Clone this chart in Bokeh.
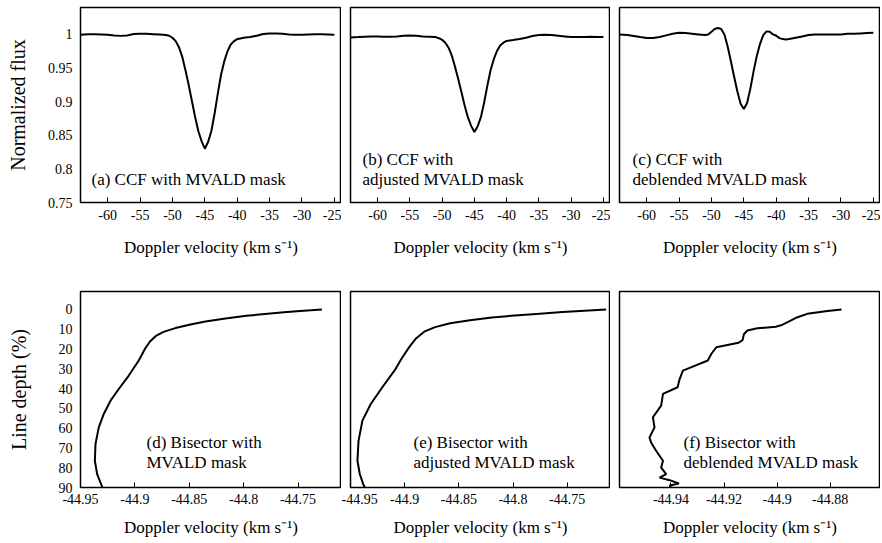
from bokeh.plotting import figure
from bokeh.layouts import gridplot
from bokeh.models import Range1d, FixedTicker, Label
from bokeh.embed import file_html
from bokeh.resources import INLINE

FONT = "Liberation Serif"

# ---------------- data: CCFs (top row) ----------------
ccf_a_v = [-64.2, -63, -62, -61, -60, -59, -58, -57, -56, -55, -54, -53, -52, -51, -50.5,
           -50, -49.5, -49, -48.5, -48, -47.5, -47, -46.5, -46, -45.5, -45, -44.5, -44,
           -43.5, -43, -42.5, -42, -41.5, -41, -40.5, -40, -39.5, -39, -38, -37, -36, -35,
           -34, -33, -32, -31, -30, -29, -28, -27, -26, -25]
ccf_a_f = [0.9995, 1.0002, 1.0003, 1.0, 0.9993, 0.9985, 0.9978, 0.9985, 1.0005, 1.001, 1.0008,
           1.0003, 0.9998, 0.999, 0.998, 0.995, 0.990, 0.981, 0.967, 0.947, 0.925, 0.901, 0.877,
           0.856, 0.841, 0.830, 0.840, 0.856, 0.882, 0.912, 0.940, 0.960, 0.975, 0.985, 0.990,
           0.993, 0.994, 0.995, 0.996, 0.998, 1.0005, 1.0015, 1.0015, 1.0008, 1.0, 0.9995,
           0.9995, 1.0, 1.0003, 1.0003, 1.0, 0.9995]

ccf_b_v = ccf_a_v
ccf_b_f = [0.9955, 0.996, 0.9965, 0.997, 0.997, 0.9965, 0.9965, 0.997, 0.998, 0.9985, 0.998,
           0.997, 0.9965, 0.996, 0.9943, 0.9919, 0.9877, 0.9802, 0.9686, 0.952, 0.9338, 0.9138,
           0.8939, 0.8765, 0.864, 0.8549, 0.8632, 0.8765, 0.898, 0.923, 0.9462, 0.9628, 0.9753,
           0.9835, 0.9877, 0.9902, 0.991, 0.9915, 0.993, 0.995, 0.9975, 0.999, 0.9995, 0.999,
           0.998, 0.997, 0.996, 0.996, 0.9962, 0.9965, 0.9962, 0.996]

ccf_c_v = [-64.2, -63, -62, -61, -60, -59, -58, -57, -56, -55, -54, -53, -52, -51, -50.5,
           -50, -49.5, -49, -48.5, -48, -47.5, -47, -46.5, -46, -45.5, -45, -44.5, -44,
           -43.5, -43, -42.5, -42, -41.5, -41, -40.5, -40, -39.5, -39, -38.5, -38, -37, -36,
           -35, -34, -33, -32, -31, -30, -29, -28, -27, -26, -25]
ccf_c_f = [1.0, 0.999, 0.9975, 0.996, 0.9948, 0.9945, 0.996, 0.9985, 1.001, 1.0025, 1.002,
           1.001, 1.0, 0.999, 1.0, 1.004, 1.008, 1.0095, 1.008, 1.0, 0.982, 0.960, 0.937,
           0.915, 0.897, 0.889, 0.898, 0.919, 0.945, 0.968, 0.986, 0.999, 1.0045, 1.004, 1.0,
           0.998, 0.9945, 0.993, 0.9925, 0.993, 0.995, 0.997, 0.999, 1.0, 1.0, 1.0, 0.9998,
           1.0, 1.0008, 1.001, 1.0015, 1.002, 1.0025]

# ---------------- data: bisectors (bottom row) ----------------
bis_d_v = [-44.728, -44.748, -44.763, -44.778, -44.7974, -44.8167, -44.8351, -44.8489,
           -44.8627, -44.8737, -44.881, -44.8861, -44.8903, -44.8964, -44.9056, -44.9148,
           -44.9224, -44.9286, -44.9332, -44.9362, -44.9368, -44.9347, -44.9316, -44.9298]
bis_d_depth = [0, 0.8, 1.4, 2.2, 3.2, 4.5, 6.1, 7.6, 9.4, 11.3, 13.5, 16.2, 19.5, 25.8, 33.4,
               40.2, 46.1, 52.8, 59.6, 68.0, 76.5, 83.2, 87.5, 90.0]

bis_e_v = [-44.714, -44.734, -44.7542, -44.7754, -44.7983, -44.8195, -44.8397, -44.858,
           -44.8719, -44.882, -44.8893, -44.8958, -44.9031, -44.9083, -44.9206, -44.9313,
           -44.939, -44.9426, -44.9436, -44.9414, -44.9383, -44.9368]
bis_e_depth = [0, 0.6, 1.3, 2.1, 3.0, 4.1, 5.4, 7.0, 8.9, 11.2, 14.5, 19.0, 25.0, 30.0, 39.3,
               47.8, 56.2, 66.4, 76.5, 83.2, 88.3, 90.0]

bis_f_v = [-44.8757, -44.881, -44.8886, -44.8923, -44.896, -44.8985, -44.9005, -44.9074,
           -44.9112, -44.9125, -44.913, -44.9145, -44.9229, -44.9248, -44.9261, -44.9355,
           -44.9368, -44.9375, -44.943, -44.9437, -44.9468, -44.9462, -44.9481, -44.9475,
           -44.9456, -44.943, -44.9437, -44.9418, -44.9443, -44.9405, -44.937, -44.9405, -44.940]
bis_f_depth = [0, 0.8, 2.2, 3.9, 6.4, 8.0, 8.7, 9.5, 10.6, 12.5, 15.5, 16.8, 19.1, 22.5, 25.8,
               30.9, 35.5, 39.3, 42.7, 48.6, 54.5, 59.6, 64.7, 67.2, 71.4, 76.5, 79.9, 83.2,
               85.0, 86.3, 88.0, 89.0, 90.0]

# ---------------- ticks and texts ----------------
ccf_xticks = [-60, -55, -50, -45, -40, -35, -30, -25]
ccf_xlabels = ["-60", "-55", "-50", "-45", "-40", "-35", "-30", "-25"]
flux_ticks = [0.75, 0.8, 0.85, 0.9, 0.95, 1.0]
flux_labels = ["0.75", "0.8", "0.85", "0.9", "0.95", "1"]
bis_xticks_de = [-44.95, -44.9, -44.85, -44.8, -44.75]
bis_xlabels_de = ["-44.95", "-44.9", "-44.85", "-44.8", "-44.75"]
bis_xticks_f = [-44.94, -44.92, -44.9, -44.88]
bis_xlabels_f = ["-44.94", "-44.92", "-44.9", "-44.88"]
depth_ticks = [0, 10, 20, 30, 40, 50, 60, 70, 80, 90]
depth_labels = ["0", "10", "20", "30", "40", "50", "60", "70", "80", "90"]

xlabel = "Doppler velocity (km s\u207b\u00b9)"
panel_texts = [["(a) CCF with MVALD mask"],
               ["(b) CCF with", "adjusted MVALD mask"],
               ["(c) CCF with", "deblended MVALD mask"],
               ["(d) Bisector with", "MVALD mask"],
               ["(e) Bisector with", "adjusted MVALD mask"],
               ["(f) Bisector with", "deblended MVALD mask"]]


def make_fig(xr, yr, fw, fh, bl, bt, bb, xticks, xlabels, tick_standoff, label_standoff,
             yticks=None, ylabels=None, ylabel=None, ylabel_standoff=10):
    p = figure(x_range=xr, y_range=yr, frame_width=fw, frame_height=fh,
               output_backend="svg", toolbar_location=None,
               min_border_left=bl, min_border_right=0, min_border_top=bt,
               min_border_bottom=bb)
    p.outline_line_color = "black"
    p.outline_line_width = 1.5
    p.grid.visible = False
    xa = p.xaxis[0]
    xa.ticker = FixedTicker(ticks=xticks)
    xa.major_label_overrides = dict(zip(xticks, xlabels))
    xa.major_tick_in = 5
    xa.major_tick_out = 0
    xa.minor_tick_in = 0
    xa.minor_tick_out = 0
    xa.major_tick_line_color = "black"
    xa.axis_line_color = None
    xa.major_label_text_font = FONT
    xa.major_label_text_font_size = "14px"
    xa.major_label_text_color = "black"
    xa.major_label_standoff = tick_standoff
    xa.axis_label = xlabel
    xa.axis_label_text_font = FONT
    xa.axis_label_text_font_size = "17px"
    xa.axis_label_text_font_style = "normal"
    xa.axis_label_text_color = "black"
    xa.axis_label_standoff = label_standoff
    ya = p.yaxis[0]
    if yticks is None:
        ya.visible = False
    else:
        ya.ticker = FixedTicker(ticks=yticks)
        ya.major_label_overrides = dict(zip(yticks, ylabels))
        ya.major_tick_in = 0
        ya.major_tick_out = 0
        ya.minor_tick_in = 0
        ya.minor_tick_out = 0
        ya.axis_line_color = None
        ya.major_label_text_font = FONT
        ya.major_label_text_font_size = "14px"
        ya.major_label_text_color = "black"
        ya.major_label_standoff = 8
        ya.axis_label = ylabel
        ya.axis_label_text_font = FONT
        ya.axis_label_text_font_size = "20px"
        ya.axis_label_text_font_style = "normal"
        ya.axis_label_text_color = "black"
        ya.axis_label_standoff = ylabel_standoff
    return p


def add_texts(p, lines, x_off, y_last):
    n = len(lines)
    for i, t in enumerate(lines):
        p.add_layout(Label(x=x_off, y=y_last + 20 * (n - 1 - i), x_units="screen",
                           y_units="screen", text=t, text_font=FONT,
                           text_font_size="17px", text_color="black"))


TOP_FH = 195
TOP_BB = 88
pa = make_fig(Range1d(-64.2, -23.9), Range1d(0.75, 1.04), 261, TOP_FH, 80, 7, TOP_BB,
              ccf_xticks, ccf_xlabels, 7, 15, flux_ticks, flux_labels, "Normalized flux", 16)
pb = make_fig(Range1d(-64.2, -23.9), Range1d(0.75, 1.04), 260, TOP_FH, 9, 7, TOP_BB,
              ccf_xticks, ccf_xlabels, 7, 15)
pc = make_fig(Range1d(-64.2, -23.9), Range1d(0.75, 1.04), 261, TOP_FH, 9, 7, TOP_BB,
              ccf_xticks, ccf_xlabels, 7, 15)
pa.line(ccf_a_v, ccf_a_f, line_color="black", line_width=2)
pb.line(ccf_b_v, ccf_b_f, line_color="black", line_width=2)
pc.line(ccf_c_v, ccf_c_f, line_color="black", line_width=2)
add_texts(pa, panel_texts[0], 11, 14)
add_texts(pb, panel_texts[1], 12, 14)
add_texts(pc, panel_texts[2], 13, 14)

BOT_FH = 196
BOT_BB = 52
pd_ = make_fig(Range1d(-44.95, -44.71), Range1d(90, -9.1), 261, BOT_FH, 80, 1, BOT_BB,
               bis_xticks_de, bis_xlabels_de, 6, 11, depth_ticks, depth_labels,
               "Line depth (%)", 26)
pe = make_fig(Range1d(-44.95, -44.71), Range1d(90, -9.1), 260, BOT_FH, 9, 1, BOT_BB,
              bis_xticks_de, bis_xlabels_de, 6, 11)
pf = make_fig(Range1d(-44.9594, -44.861), Range1d(90, -9.1), 261, BOT_FH, 9, 1, BOT_BB,
              bis_xticks_f, bis_xlabels_f, 6, 11)
pd_.line(bis_d_v, bis_d_depth, line_color="black", line_width=2)
pe.line(bis_e_v, bis_e_depth, line_color="black", line_width=2)
pf.line(bis_f_v, bis_f_depth, line_color="black", line_width=2)
add_texts(pd_, panel_texts[3], 66, 16)
add_texts(pe, panel_texts[4], 63, 16)
add_texts(pf, panel_texts[5], 64, 16)

layout = gridplot([[pa, pb, pc], [pd_, pe, pf]], toolbar_location=None)
open("out.html", "w").write(file_html(layout, INLINE))
